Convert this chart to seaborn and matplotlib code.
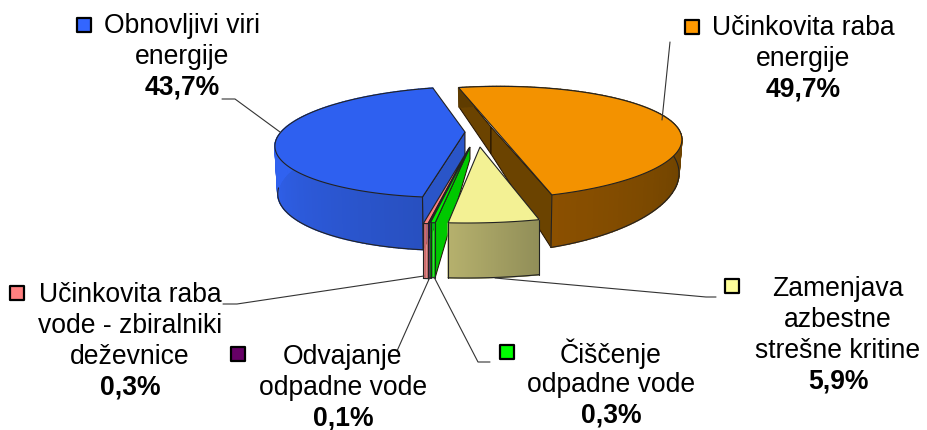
import numpy as np
import pandas as pd
import seaborn as sns
import matplotlib.pyplot as plt
from matplotlib.colors import to_rgb

categories = ["Učinkovita raba\nenergije", "Zamenjava\nazbestne\nstrešne kritine", "Čiščenje\nodpadne vode",
              "Odvajanje\nodpadne vode", "Učinkovita raba\nvode - zbiralniki\ndeževnice", "Obnovljivi viri\nenergije"]
values = [49.7, 5.9, 0.3, 0.1, 0.3, 43.7]
top_colors = ["#f39200", "#f3f194", "#00f000", "#660066", "#ff8080", "#2e60f0"]
key_colors = ["#ff9900", "#ffff99", "#00ff00", "#660066", "#ff8080", "#3366ff"]
first_angle = -16.0

# projected frame of every exploded slice, in image pixels
frames = [
    dict(x=491, y=127, a=186, b=-10.5, c=52, p=0.28, depth=30, power=1.8),
    dict(x=480, y=147, a=247, b=-14, c=76, p=0, depth=55, power=2),
    dict(x=470, y=147, a=247, b=-17, c=76, p=0, depth=55, power=2),
    dict(x=469.5, y=147.5, a=247, b=-17, c=76, p=0, depth=55, power=2),
    dict(x=469, y=148, a=247, b=-17, c=76, p=0, depth=55, power=2),
    dict(x=465, y=132, a=184, b=-13.6, c=53.7, p=0.18, depth=46, power=0.7),
]
# gradient of the side wall: angle from, angle to, colour from, colour to
walls = [
    (80, 163, "#5f3c00", "#8b5000"),
    (163, 185, "#918e58", "#b7b26e"),
    (0, 360, "#00c800", "#00c800"),
    (0, 360, "#30002f", "#30002f"),
    (0, 360, "#cf6a6a", "#cf6a6a"),
    (187, 262, "#2850c0", "#3062f0"),
]
# part of the lower rim that shows
rim_from = [72, -90, -90, -90, -90, -90]
rim_to = [400, 400, 400, 400, 400, 262]
face_colors = ["#6b4300", None, "#00c800", None, None, "#2a55c8"]
face_apex_depth = [27, 0, 12, 0, 0, 36]
draw_order = [0, 5, 4, 3, 2, 1]

label_x = [803, 838, 611, 343, 130, 182]
label_y = [28, 289, 354, 357, 295, 26]
key_x = [692, 732, 507, 238, 17, 84]
key_y = [27, 286, 352, 354, 293, 25]
leaders = [
    ([670, 662], [42, 120]),
    ([495, 706, 716], [278, 297, 297]),
    ([434, 478, 490], [277, 362, 362]),
    ([430, 397], [277, 351]),
    ([424, 237, 223], [276, 304, 304]),
    ([222, 235, 280], [99, 99, 132]),
]


def top_pt(f, th):
    u, v = np.sin(np.radians(th)), -np.cos(np.radians(th))
    k = 1 / (1 - f["p"] * v)
    return f["x"] + (f["a"] * u + f["b"] * v) * k, f["y"] + f["c"] * v * k


def bot_pt(f, th):
    v = -np.cos(np.radians(th))
    k = 1 / (1 - f["p"] * v)
    x, y = top_pt(f, th)
    shrink = 0.985 if f["p"] > 0 else 1
    return f["x"] + (x - f["x"]) * shrink, y + f["depth"] * k ** f["power"]


sns.set_theme(style="white")
plt.rcParams['font.family'] = ['Liberation Sans', 'DejaVu Sans']
fig = plt.figure(figsize=(9.27, 4.3), dpi=100)
ax = fig.add_axes([0, 0, 1, 1])

ends = first_angle + np.cumsum(values) * 3.6
starts = ends - np.array(values) * 3.6

for z, i in enumerate(draw_order, start=1):
    f = frames[i]
    th0, th1 = starts[i], ends[i]
    arc = np.linspace(th0, th1, 120 if values[i] > 1 else 4)
    # inner faces
    if face_colors[i] is not None:
        apex_low = (f["x"], f["y"] + face_apex_depth[i])
        face = [top_pt(f, th0), (f["x"], f["y"]), apex_low, bot_pt(f, th0)]
        ax.fill(*zip(*face), color=face_colors[i], ec="#201000", lw=0.7, zorder=z)
        if i == 0:
            face = [(f["x"], f["y"]), top_pt(f, th1), bot_pt(f, th1), apex_low]
            ax.fill(*zip(*face), color=face_colors[i], ec="#201000", lw=0.7, zorder=z)
    # side wall, cut in small strips for the gradient
    g0, g1, c0, c1 = walls[i]
    c0, c1 = np.array(to_rgb(c0)), np.array(to_rgb(c1))
    for a, b in zip(arc[:-1], arc[1:]):
        t = np.clip(((a + b) / 2 - g0) / (g1 - g0), 0, 1)
        col = c0 + (c1 - c0) * t
        quad = [top_pt(f, a), top_pt(f, b), bot_pt(f, b), bot_pt(f, a)]
        ax.fill(*zip(*quad), fc=col, ec=col, lw=1.0 if values[i] > 1 else 0, zorder=z)
    rim = arc[(arc >= rim_from[i]) & (arc <= rim_to[i])]
    ax.plot(*zip(*[bot_pt(f, t) for t in rim]), color="#222222", lw=0.8, zorder=z)
    for t in ([th1] if i == 0 else [th0] if i == 5 else [th0, th1]):
        ax.plot(*zip(top_pt(f, t), bot_pt(f, t)), color="#222222", lw=0.8, zorder=z)
    # top surface
    if i == 0:
        top = [top_pt(f, t) for t in arc]
    else:
        top = [(f["x"], f["y"])] + [top_pt(f, t) for t in arc]
    ax.fill(*zip(*top), fc=top_colors[i], ec="#222222", lw=0.8, zorder=z)

for xs, ys in leaders:
    ax.plot(xs, ys, color="#333333", lw=0.8, zorder=10)

keys = pd.DataFrame({"x": key_x, "y": key_y, "name": categories})
sns.scatterplot(data=keys, x="x", y="y", hue="name", palette=key_colors, marker="s", s=95,
                edgecolor="black", linewidth=1.6, legend=False, ax=ax, zorder=12)

line_h = 30.8
for name, val, x, y in zip(categories, values, label_x, label_y):
    lines = name.split("\n")
    for n, line in enumerate(lines):
        ax.text(x, y + n * line_h, line, ha="center", va="center", fontsize=19.1, color="black", zorder=11)
    ax.text(x, y + len(lines) * line_h, f"{val:.1f}%".replace(".", ","), ha="center", va="center",
            fontsize=19.1, fontweight="bold", color="black", zorder=11)

ax.set_xlim(0, 927)
ax.set_ylim(430, 0)
ax.axis("off")
fig.savefig("out.png", dpi=100)
